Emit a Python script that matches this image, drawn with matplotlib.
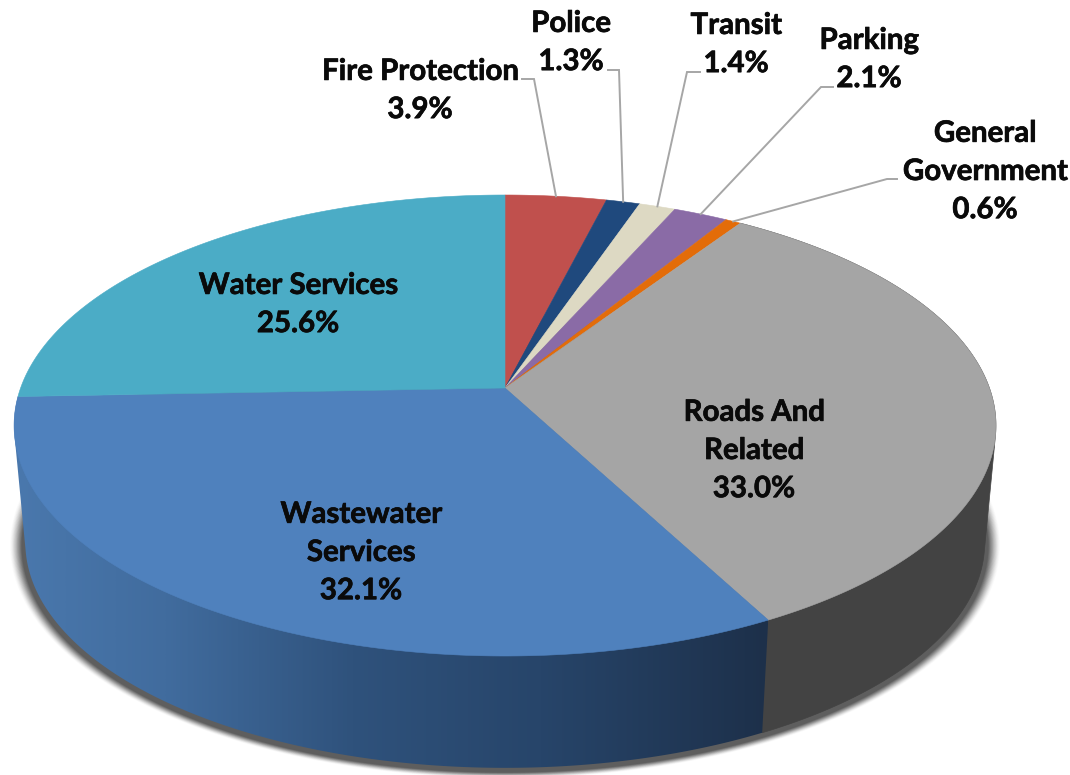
import numpy as np
import matplotlib
matplotlib.use("Agg")
import matplotlib.pyplot as plt
import matplotlib.patheffects as pe
from matplotlib.patches import Polygon
from matplotlib.colors import LinearSegmentedColormap

# Capital budget shares, clockwise from twelve o'clock
categories = ["Fire Protection", "Police", "Transit", "Parking", "General\nGovernment",
              "Roads And\nRelated", "Wastewater\nServices", "Water Services"]
shares = [3.9, 1.3, 1.4, 2.1, 0.6, 33.0, 32.1, 25.6]
colors = ["#C0504D", "#1F497D", "#DDD9C3", "#8A6BA6", "#E36C09",
          "#A5A5A5", "#4F81BD", "#4BACC6"]
side_colors = {"Roads And\nRelated": "#434343"}

# Label centres and, for outside labels, the leader elbows
label_pos = [(420, 91), (571, 43), (736, 45), (869, 60), (985, 172),
             (754, 451), (361, 553), (298, 305)]
leaders = {0: [(534, 79), (522, 79)], 1: [(619, 70), (608, 70)],
           2: [(687, 72), (700, 72)], 3: [(821, 87), (833, 87)],
           4: [(887, 179), (897, 179)]}

# Perspective of the disc on the page
CX, CY = 505.0, 388.0
A, B, K = 484.4, 224.4, 0.1627
BASE_SCALE, BASE_Y = 0.977, 506.0


def top_xy(deg):
    t = np.radians(deg)
    u, v = np.sin(t), np.cos(t)
    d = 1 + K * v
    return CX + A * u / d, CY - B * v / d


def base_xy(deg):
    x, y = top_xy(deg)
    return CX + BASE_SCALE * (x - CX), BASE_Y + BASE_SCALE * (y - CY)


def arc(fn, a0, a1):
    n = max(int(abs(a1 - a0) * 2), 2)
    return np.column_stack(fn(np.linspace(a0, a1, n)))


def convex_hull(points):
    pts = sorted(map(tuple, points))

    def half(seq):
        out = []
        for p in seq:
            while len(out) > 1 and ((out[-1][0] - out[-2][0]) * (p[1] - out[-2][1])
                                    - (out[-1][1] - out[-2][1]) * (p[0] - out[-2][0])) <= 0:
                out.pop()
            out.append(p)
        return out[:-1]

    return np.array(half(pts) + half(pts[::-1]))


fig = plt.figure(figsize=(10.7, 7.75), dpi=100, facecolor="white")
ax = fig.add_axes([0, 0, 1, 1])
ax.set_xlim(0, 1070)
ax.set_ylim(775, 0)
ax.axis("off")

edges = np.concatenate([[0], np.cumsum(shares)]) * 3.6

# Soft drop shadow under the base, built from stacked translucent outlines
ring = arc(base_xy, 0, 360)
ring_cy = BASE_Y + BASE_SCALE * 37.5
for scale, alpha in zip(np.linspace(1.032, 1.008, 16), np.linspace(0.015, 0.10, 16)):
    pts = np.column_stack([CX + scale * (ring[:, 0] - CX),
                           ring_cy + 3 + scale * (ring[:, 1] - ring_cy)])
    ax.add_patch(Polygon(pts, closed=True, fc="black", ec="none", alpha=alpha, zorder=1))

# Side walls
side_cmap = LinearSegmentedColormap.from_list(
    "wall", [(0.0, "#4A78AD"), (0.2, "#416C9E"), (0.45, "#2F527C"),
             (0.7, "#27456A"), (1.0, "#1D304A")])
for i, name in enumerate(categories):
    a0, a1 = edges[i], edges[i + 1]
    wall = convex_hull(np.vstack([arc(top_xy, a0, a1), arc(base_xy, a1, a0)]))
    if name in side_colors:
        ax.add_patch(Polygon(wall, closed=True, fc=side_colors[name],
                             ec=side_colors[name], lw=0.5, zorder=2))
    elif name.startswith("Wastewater"):
        patch = Polygon(wall, closed=True, fc="none", ec="none", zorder=2.1)
        ax.add_patch(patch)
        grad = np.linspace(0, 1, 512).reshape(1, -1)
        im = ax.imshow(grad, cmap=side_cmap, extent=(14, 768, 775, 380),
                       aspect="auto", zorder=2.1, interpolation="bilinear")
        im.set_clip_path(patch)
ax.set_xlim(0, 1070)
ax.set_ylim(775, 0)

# Top faces
for i, c in enumerate(colors):
    face = np.vstack([[CX, CY], arc(top_xy, edges[i], edges[i + 1])])
    ax.add_patch(Polygon(face, closed=True, fc=c, ec=c, lw=0.4, zorder=3))

# Leaders and labels
for i, bend in leaders.items():
    mid = (edges[i] + edges[i + 1]) / 2
    p = [top_xy(mid)] + bend
    ax.plot([q[0] for q in p], [q[1] for q in p], color="#A6A6A6", lw=1.4,
            solid_joinstyle="miter", zorder=4)

for name, val, (x, y) in zip(categories, shares, label_pos):
    ax.text(x, y, f"{name}\n{val:.1f}%", ha="center", va="center", family="Lato",
            weight="bold", fontsize=21.2, color="#0A0A0A", linespacing=1.58, zorder=5,
            path_effects=[pe.withStroke(linewidth=0.5, foreground="#0A0A0A")])

fig.savefig("out.png", dpi=100, facecolor="white")
